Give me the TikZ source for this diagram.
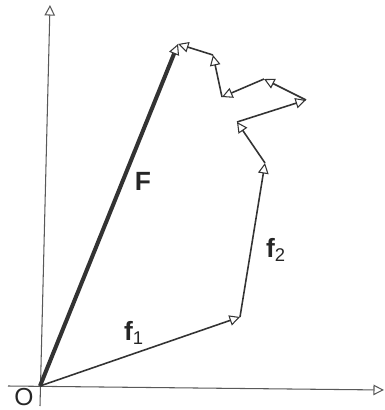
\documentclass[tikz,border=0pt]{standalone}
\usepackage{fontspec}
\setsansfont{Liberation Sans}
\usetikzlibrary{arrows.meta}

\begin{document}
\begin{tikzpicture}[x=0.02cm, y=-0.02cm,
    axis/.style={black!65, line width=0.6pt, -{Triangle[open, length=6pt, width=6pt, line width=0.6pt]}},
    vec/.style={black!80, line width=0.9pt, -{Triangle[open, length=6pt, width=6pt, line width=0.6pt]}},
    res/.style={black!80, line width=2.3pt, -{Triangle[open, length=6pt, width=6pt, line width=0.6pt]}},
    lbl/.style={font=\fontsize{15}{18}\selectfont\sffamily\bfseries, black!85},
  ]
  \useasboundingbox (0,0) rectangle (385,410);
  % points of the chain
  \coordinate (O)  at (40,386);
  \coordinate (p1) at (240,317);
  \coordinate (p2) at (265,163);
  \coordinate (p3) at (237,122);
  \coordinate (p4) at (306,100);
  \coordinate (p5) at (264,79);
  \coordinate (p6) at (222,97);
  \coordinate (p7) at (213,55);
  \coordinate (E)  at (178,44);
  % axes
  \coordinate (xa) at (8,386);
  \coordinate (xb) at (384,390);
  \coordinate (ya) at (40,406);
  \coordinate (yb) at (50,5);
  \draw[axis] (xa) -- (xb);
  \draw[axis] (ya) -- (yb);
  \node[font=\fontsize{14}{16}\selectfont\sffamily, black!85, inner sep=1pt] (lO) at (24,397) {O};
  % resultant
  \draw[res] (O) -- (E);
  \node[lbl] (lF) at (143,181) {F};
  % the small forces
  \draw[vec] (O) -- (p1);
  \draw[vec] (p1) -- (p2);
  \draw[vec] (p2) -- (p3);
  \draw[vec] (p3) -- (p4);
  \draw[vec] (p4) -- (p5);
  \draw[vec] (p5) -- (p6);
  \draw[vec] (p6) -- (p7);
  \draw[vec] (p7) -- (E);
  \node[lbl] (lf1) at (134,333) {f\textsubscript{\mdseries 1}};
  \node[lbl] (lf2) at (276,250) {f\textsubscript{\mdseries 2}};
\end{tikzpicture}
\end{document}
